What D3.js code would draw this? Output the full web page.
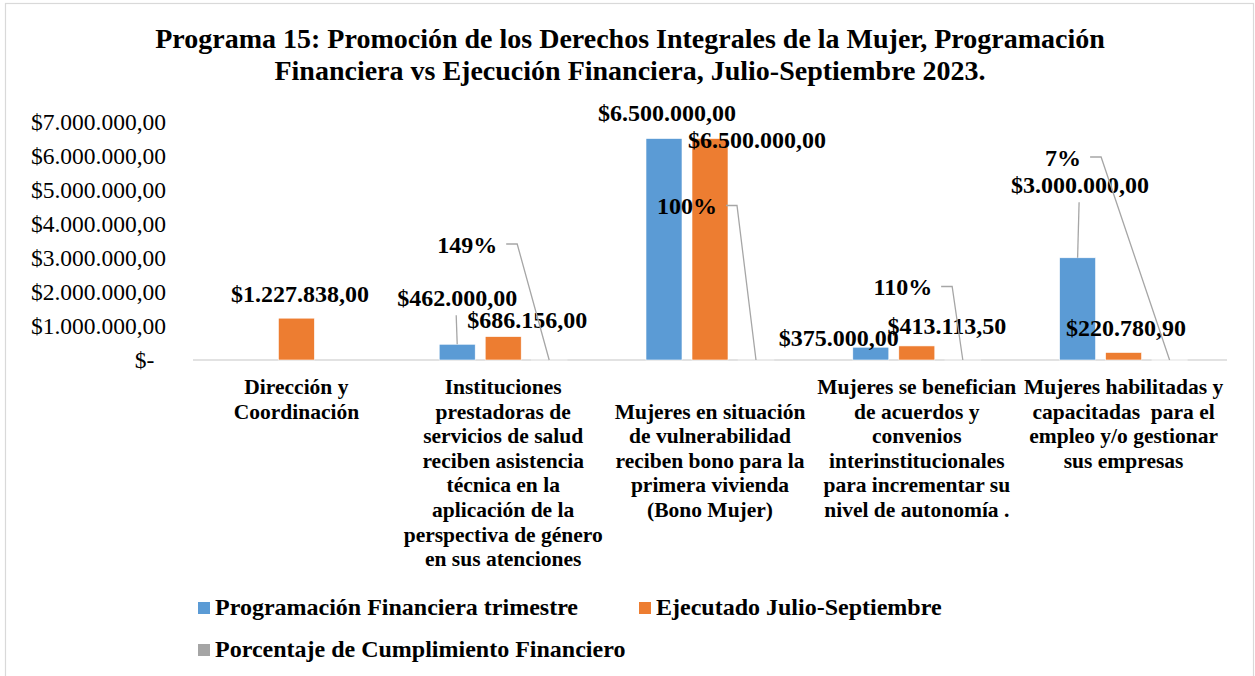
<!DOCTYPE html>
<html>
<head>
<meta charset="utf-8">
<script src="https://cdn.jsdelivr.net/npm/d3@7"></script>
<style>
  html, body { margin: 0; padding: 0; background: #fff; }
  svg { display: block; }
  text { font-family: "Liberation Serif", "Times New Roman", serif; fill: #000; }
  .cat tspan { white-space: pre; }
</style>
</head>
<body>
<svg id="chart" width="1255" height="676"></svg>
<script>
// ---------- DATA ----------
const titleLines = [
  "Programa 15: Promoción de los Derechos Integrales de la Mujer, Programación",
  "Financiera vs Ejecución Financiera, Julio-Septiembre 2023."
];
const categories = [
  "Dirección y Coordinación",
  "Instituciones prestadoras de servicios de salud reciben asistencia técnica en la aplicación de la perspectiva de género en sus atenciones",
  "Mujeres en situación de vulnerabilidad reciben bono para la primera vivienda (Bono Mujer)",
  "Mujeres se benefician de acuerdos y convenios interinstitucionales para incrementar su nivel de autonomía .",
  "Mujeres habilitadas y capacitadas  para el empleo y/o gestionar sus empresas"
];
const categoryLines = [
  ["Dirección y", "Coordinación"],
  ["Instituciones", "prestadoras de", "servicios de salud", "reciben asistencia", "técnica en la", "aplicación de la", "perspectiva de género", "en sus atenciones"],
  ["", "Mujeres en situación", "de vulnerabilidad", "reciben bono para la", "primera vivienda", "(Bono Mujer)"],
  ["Mujeres se benefician", "de acuerdos y", "convenios", "interinstitucionales", "para incrementar su", "nivel de autonomía ."],
  ["Mujeres habilitadas y", "capacitadas  para el", "empleo y/o gestionar", "sus empresas"]
];
const seriesNames = ["Programación Financiera trimestre", "Ejecutado Julio-Septiembre", "Porcentaje de Cumplimiento Financiero"];
const programado = [null, 462000, 6500000, 375000, 3000000];
const ejecutado = [1227838, 686156, 6500000, 413113.5, 220780.9];
const cumplimiento = [null, 1.49, 1.00, 1.10, 0.07];
const yTicks = [0, 1000000, 2000000, 3000000, 4000000, 5000000, 6000000, 7000000];

// ---------- LAYOUT (label placement, not data) ----------
const colors = ["#5B9BD5", "#ED7D31", "#A5A5A5"];
// value label offsets: dx from bar centre, dy = baseline offset from bar top
const valueLabelOffsets = [
  [null, {dx: 0, dy: -38.5, leader: true}, {dx: 3, dy: -17.5}, {dx: -32, dy: -1}, {dx: 2.5, dy: -65, leader: true}],
  [{dx: 3.5, dy: -16}, {dx: 24, dy: -8.6}, {dx: 47, dy: 9}, {dx: 30, dy: -12}, {dx: 2.5, dy: -16}]
];
// percent labels: dx of text centre from bar centre, baseline y
const pctLabelOffsets = [null, {dx: -82, by: 252.5}, {dx: -69, by: 214}, {dx: -60, by: 295}, {dx: -106.5, by: 165.5}];

// ---------- CHART ----------
const svg = d3.select("#chart");
const loc = d3.formatLocale({decimal: ",", thousands: ".", grouping: [3], currency: ["$", ""]});
const money = loc.format("$,.2f");
const pct = d3.format(".0%");

svg.append("rect").attr("x", 5.5).attr("y", 3.5).attr("width", 1248).attr("height", 700)
  .attr("fill", "#fff").attr("stroke", "#d9d9d9").attr("stroke-width", 1.2);

svg.append("g").selectAll("text").data(titleLines).join("text")
  .attr("x", 630).attr("y", (d, i) => 48 + i * 32)
  .attr("text-anchor", "middle").style("font-size", "28px").style("font-weight", "bold")
  .text(d => d);

const x = d3.scaleBand().domain(categories).range([193, 1227]).padding(0);
const bw = x.bandwidth();
const xs = d3.scaleBand().domain(seriesNames).range([bw / 2 - 69, bw / 2 + 69])
  .paddingInner(10 / 46).paddingOuter(5 / 46);
const y = d3.scaleLinear().domain([0, 7000000]).range([360, 121.5]);

// y axis labels
const yAxis = d3.axisLeft(y).tickValues(yTicks).tickSize(0).tickPadding(27)
  .tickFormat(d => d === 0 ? "$-\u00a0\u00a0" : money(d));
const gy = svg.append("g").attr("transform", "translate(193,0)").call(yAxis);
gy.select(".domain").remove();
gy.selectAll("text").style("font-size", "23.5px").style("font-family", "'Liberation Serif', serif").attr("fill", "#000");

// baseline
svg.append("line").attr("x1", 193).attr("x2", 1227).attr("y1", y(0)).attr("y2", y(0))
  .attr("stroke", "#d9d9d9").attr("stroke-width", 1.5);

const seriesValues = [programado, ejecutado, cumplimiento];

// bars
seriesValues.forEach((vals, s) => {
  svg.append("g").selectAll("rect")
    .data(vals.map((v, i) => ({v, c: categories[i]})).filter(d => d.v != null))
    .join("rect")
    .attr("x", d => x(d.c) + xs(seriesNames[s]))
    .attr("width", xs.bandwidth())
    .attr("y", d => y(d.v))
    .attr("height", d => y(0) - y(d.v))
    .attr("fill", colors[s])
    .attr("stroke", "#fff").attr("stroke-width", 0.6);
});

// value labels
const labelG = svg.append("g");
[programado, ejecutado].forEach((vals, s) => {
  vals.forEach((v, i) => {
    if (v == null) return;
    const off = valueLabelOffsets[s][i];
    const cx = x(categories[i]) + xs(seriesNames[s]) + xs.bandwidth() / 2;
    const top = y(v);
    const lx = cx + off.dx, ly = top + off.dy;
    if (off.leader) {
      labelG.append("line").attr("x1", lx - 1).attr("y1", ly + 9.5).attr("x2", cx).attr("y2", top)
        .attr("stroke", "#a6a6a6").attr("stroke-width", 1.3);
    }
    labelG.append("text").attr("x", lx).attr("y", ly).attr("text-anchor", "middle")
      .style("font-size", "24px").style("font-weight", "bold").text(money(v));
  });
});

// percent labels with leader lines
cumplimiento.forEach((v, i) => {
  if (v == null) return;
  const off = pctLabelOffsets[i];
  const cx = x(categories[i]) + xs(seriesNames[2]) + xs.bandwidth() / 2;
  const t = labelG.append("text").attr("x", cx + off.dx).attr("y", off.by).attr("text-anchor", "middle")
    .style("font-size", "24px").style("font-weight", "bold").text(pct(v));
  const bb = t.node().getBBox();
  const ly = off.by - 8.5;
  const x0 = bb.x + bb.width + 9;
  labelG.append("path")
    .attr("d", `M${x0},${ly}H${x0 + 11}L${cx},${y(v)}`)
    .attr("fill", "none").attr("stroke", "#a6a6a6").attr("stroke-width", 1.3);
});

// category labels
const catG = svg.append("g");
categories.forEach((c, i) => {
  const cx = x(c) + bw / 2;
  catG.append("text").attr("class", "cat").attr("text-anchor", "middle")
    .style("font-size", "21.5px").style("font-weight", "bold")
    .selectAll("tspan").data(categoryLines[i]).join("tspan")
    .attr("x", cx).attr("y", (d, j) => 394 + j * 24.6)
    .text(d => d);
});

// legend
const legendItems = [
  {name: seriesNames[0], color: colors[0], x: 198, y: 615},
  {name: seriesNames[1], color: colors[1], x: 639, y: 615},
  {name: seriesNames[2], color: colors[2], x: 198, y: 657}
];
const lg = svg.append("g").selectAll("g").data(legendItems).join("g");
lg.append("rect").attr("x", d => d.x).attr("y", d => d.y - 13).attr("width", 12).attr("height", 12).attr("fill", d => d.color);
lg.append("text").attr("x", d => d.x + 17).attr("y", d => d.y)
  .style("font-size", "24px").style("font-weight", "bold").text(d => d.name);
</script>
</body>
</html>
